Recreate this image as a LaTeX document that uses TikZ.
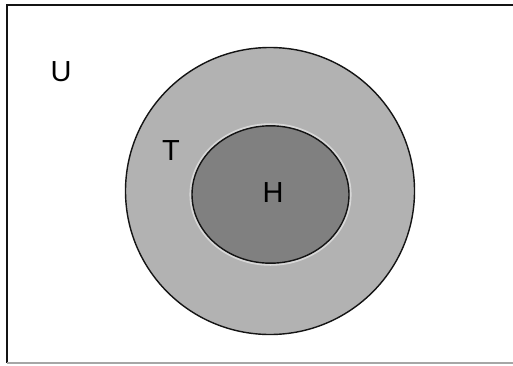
\documentclass[tikz,border=0pt]{standalone}
\usepackage{fontspec}
\setmainfont{Liberation Sans}
\usepackage{tikz}
\usetikzlibrary{positioning}
\usepackage{xcolor}
\definecolor{fillT}{RGB}{178, 178, 178}
\definecolor{fillH}{RGB}{128, 128, 128}
\definecolor{haloclr}{RGB}{215, 215, 215}
\definecolor{edgeclr}{RGB}{20, 20, 20}
\tikzset{
  % Universal set frame
  frameline/.style = {line width=1.1pt, draw=edgeclr},
  framefaint/.style= {line width=1.1pt, draw=black!35},
  % Set shapes
  setT/.style  = {fill=fillT, draw=edgeclr, line width=0.8pt},
  setH/.style  = {fill=fillH, draw=edgeclr, line width=0.8pt},
  halo/.style  = {draw=haloclr, line width=1.2pt},
  % Labels
  setlab/.style = {font=\fontsize{16.5}{18}\selectfont, inner sep=0pt},
}
\begin{document}
\begin{tikzpicture}[x=0.02cm, y=-0.02cm]
  \clip (0,0) rectangle (513,365);
  \fill[white] (0,0) rectangle (513,365);
  % Universal set
  \draw[frameline] (530,5) -- (7,5) -- (7,363);
  \draw[framefaint] (7,363) -- (530,363);
  % Set T and set H
  \draw[setT] (270,191) ellipse [x radius=144.5, y radius=143.5];
  \draw[halo] (270.5,194.5) ellipse [x radius=80, y radius=70.2];
  \draw[setH] (270.5,194.5) ellipse [x radius=78.5, y radius=68.7];
  % Labels
  \node[setlab] (U) at (61,72) {U};
  \node[setlab] (T) at (171,151) {T};
  \node[setlab] (H) at (273,193) {H};
\end{tikzpicture}
\end{document}
